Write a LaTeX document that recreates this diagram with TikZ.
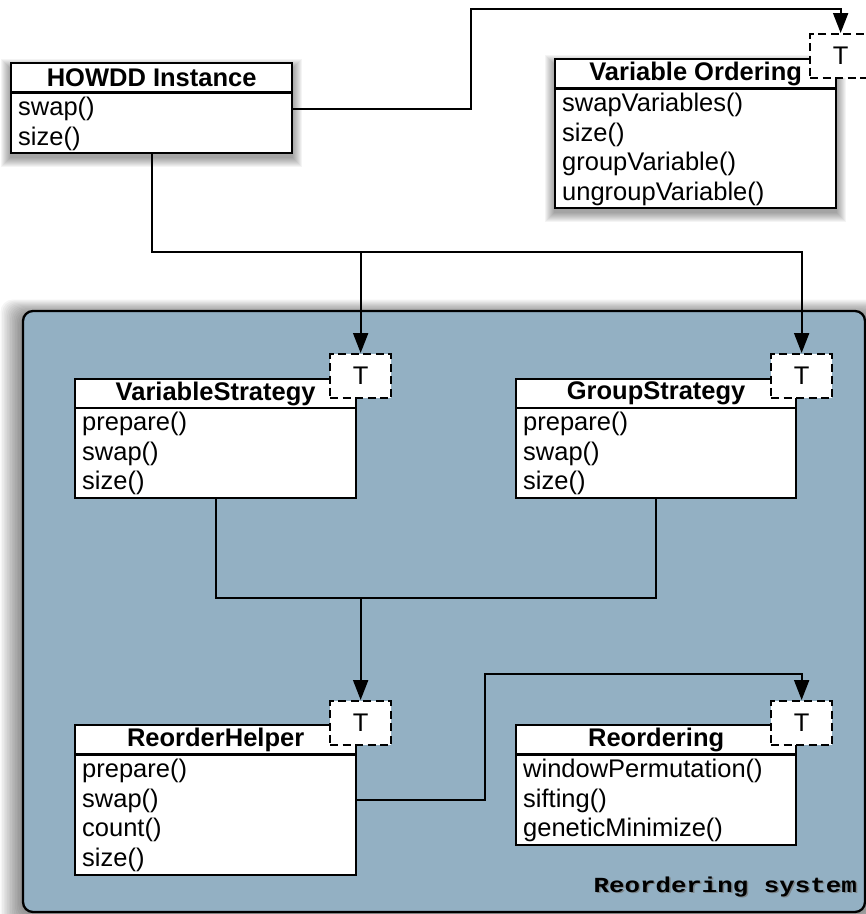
\documentclass[tikz,border=0pt]{standalone}
\usepackage{fontspec}
\usepackage{graphicx}
\setmainfont{Liberation Sans}
\newfontfamily\labelmono{Liberation Mono}
\usetikzlibrary{arrows.meta}
\definecolor{sysblue}{HTML}{93B0C3}
\tikzset{
  hdr/.style={draw, line width=2.3pt, fill=white, minimum height=29pt, inner sep=0pt,
    font=\fontsize{25.5}{29.5}\selectfont\bfseries, anchor=north west},
  body/.style={draw, line width=2.3pt, fill=white, inner sep=0pt, anchor=north west},
  row/.style={anchor=base west, inner sep=0pt, font=\fontsize{25.5}{29.5}\selectfont},
  tbox/.style={draw, dash pattern=on 8pt off 4.5pt, line width=2.3pt, fill=white, inner sep=0pt,
    minimum width=61pt, minimum height=44pt, anchor=north west, font=\fontsize{25.5}{29.5}\selectfont},
  conn/.style={line width=2pt},
  arr/.style={conn, -{Triangle[length=20pt,width=15pt]}},
}
\newcommand{\softshadow}[5]{%
  \foreach \k in {1,...,#5}{
    \fill[black, opacity=0.045] ({#1-\k+1},{#2-\k+7}) rectangle ({#3+\k+1},{#4+\k+5});
  }}
\begin{document}
\begin{tikzpicture}[x=1pt,y=-1pt]
\useasboundingbox (0,0) rectangle (866,914);

% container shadow and container
\foreach \k in {1,...,14}{
  \fill[black, opacity=0.04, rounded corners=12pt] ({23-1.6*\k},{311-1.1*\k+4}) rectangle ({865+1.6*\k},{912+1.6*\k});
}
\draw[line width=2.3pt, fill=sysblue, rounded corners=10pt] (23,311) rectangle (865,912);

% top shadows
\softshadow{10}{62}{291}{152}{10}
\softshadow{554}{58}{835}{207}{10}

% ---- HOWDD Instance
\node[hdr, minimum width=281pt] (hwT) at (10,62) {HOWDD Instance};
\node[body, minimum width=281pt, minimum height=60pt] (hwB) at (10,92) {};
\node[row] (hw1) at (18,115.5) {swap()};
\node[row] (hw2) at (18,145) {size()};

% ---- Variable Ordering
\node[hdr, minimum width=281pt] (voT) at (554,58) {Variable Ordering};
\node[body, minimum width=281pt, minimum height=119pt] (voB) at (554,88) {};
\node[row] (vo1) at (562,111.5) {swapVariables()};
\node[row] (vo2) at (562,141) {size()};
\node[row] (vo3) at (562,170.5) {groupVariable()};
\node[row] (vo4) at (562,200) {ungroupVariable()};
\node[tbox] (voP) at (809,33) {T};

% ---- helper coordinates
\coordinate (top) at (0,9);
\coordinate (mid) at (471,0);
\coordinate (bus1) at (0,252);
\coordinate (bus2) at (0,598);
\coordinate (bus3) at (0,674);
\coordinate (bend) at (485,0);

\draw[arr] (hw1 -| hwB.east) -| (mid |- top) -| (voP.north);

% ---- VariableStrategy
\node[hdr, minimum width=281pt] (vsT) at (74,378) {VariableStrategy};
\node[body, minimum width=281pt, minimum height=90pt] (vsB) at (74,407) {};
\node[row] (vs1) at (82,430.5) {prepare()};
\node[row] (vs2) at (82,460) {swap()};
\node[row] (vs3) at (82,489.5) {size()};
\node[tbox] (vsP) at (329,353) {T};

% ---- GroupStrategy
\node[hdr, minimum width=280pt] (gsT) at (515,378) {GroupStrategy};
\node[body, minimum width=280pt, minimum height=90pt] (gsB) at (515,407) {};
\node[row] (gs1) at (523,430.5) {prepare()};
\node[row] (gs2) at (523,460) {swap()};
\node[row] (gs3) at (523,489.5) {size()};
\node[tbox] (gsP) at (770,353) {T};

% ---- ReorderHelper
\node[hdr, minimum width=281pt] (rhT) at (74,724) {ReorderHelper};
\node[body, minimum width=281pt, minimum height=120pt] (rhB) at (74,754) {};
\node[row] (rh1) at (82,777.5) {prepare()};
\node[row] (rh2) at (82,807) {swap()};
\node[row] (rh3) at (82,836.5) {count()};
\node[row] (rh4) at (82,866) {size()};
\node[tbox] (rhP) at (329,700) {T};

% ---- Reordering
\node[hdr, minimum width=280pt] (roT) at (515,724) {Reordering};
\node[body, minimum width=280pt, minimum height=90pt] (roB) at (515,754) {};
\node[row] (ro1) at (523,777.5) {windowPermutation()};
\node[row] (ro2) at (523,807) {sifting()};
\node[row] (ro3) at (523,836.5) {geneticMinimize()};
\node[tbox] (roP) at (770,700) {T};

% ---- connectors
\draw[arr] (hwB.south) |- (bus1 -| gsP.north) -- (gsP.north);
\draw[arr] (vsP.north |- bus1) -- (vsP.north);
\draw[conn] (vsB.south) |- (bus2 -| gsB.south) -- (gsB.south);
\draw[arr] (rhP.north |- bus2) -- (rhP.north);
\draw[arr] (rh2 -| rhB.east) -| (bend |- bus3) -| (roP.north);

% ---- label
\node[anchor=base east, inner sep=0pt, text=black!55, opacity=0.7,
  font=\labelmono\bfseries\fontsize{21.5}{22}\selectfont] (lblshadow) at (858.5,893.5)
  {\scalebox{1.2}[1]{Reordering system}};
\node[anchor=base east, inner sep=0pt,
  font=\labelmono\bfseries\fontsize{21.5}{22}\selectfont] (lbl) at (857,892)
  {\scalebox{1.2}[1]{Reordering system}};
\end{tikzpicture}
\end{document}
